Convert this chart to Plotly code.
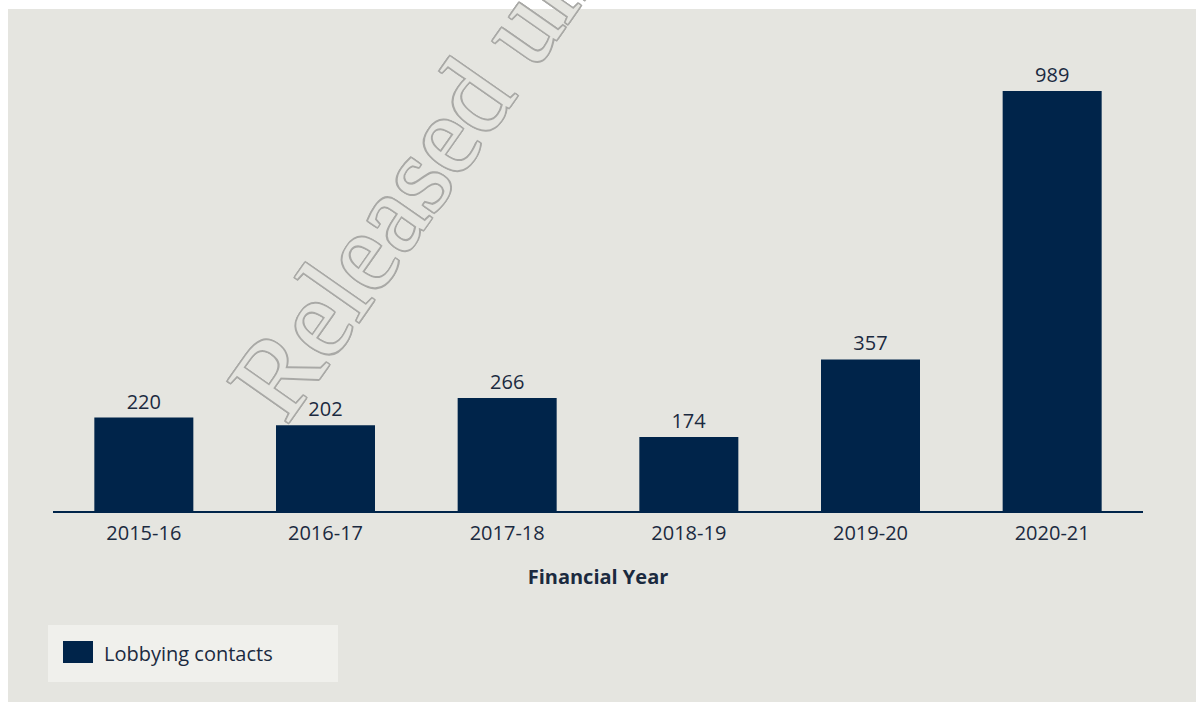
import plotly.graph_objects as go

# Lobbying contacts recorded per financial year
years = ["2015-16", "2016-17", "2017-18", "2018-19", "2019-20", "2020-21"]
contacts = [220, 202, 266, 174, 357, 989]
series_name = "Lobbying contacts"
axis_title = "Financial Year"
watermark = "Released under FOI"

W, H = 1196, 702
ML, MR, MT, MB = 53, 53, 40, 191
PW, PH = W - ML - MR, H - MT - MB

NAVY = "#00244a"
TEXT = "#1b2a3f"
PANEL = "#e5e5e0"
FONT = "Open Sans, Noto Sans, sans-serif"


def px_x(px):
    return (px - ML) / PW


def px_y(py):
    return (H - MB - py) / PH


fig = go.Figure()
fig.add_trace(go.Bar(
    x=years,
    y=contacts,
    name=series_name,
    marker=dict(color=NAVY, line=dict(width=0)),
    text=[str(v) for v in contacts],
    textposition="outside",
    textfont=dict(family=FONT, size=20, color=TEXT),
    cliponaxis=False,
    showlegend=False,
))

shapes = [
    # grey card behind the chart
    dict(type="rect", xref="paper", yref="paper", layer="below",
         x0=px_x(8), x1=px_x(W + 2), y0=px_y(9), y1=px_y(H + 2),
         fillcolor=PANEL, line=dict(width=0)),
    # legend box
    dict(type="rect", xref="paper", yref="paper",
         x0=px_x(48), x1=px_x(338), y0=px_y(625), y1=px_y(682),
         fillcolor="#f0f0ec", line=dict(width=0)),
    # legend swatch
    dict(type="rect", xref="paper", yref="paper",
         x0=px_x(63), x1=px_x(93), y0=px_y(641), y1=px_y(663),
         fillcolor=NAVY, line=dict(width=0)),
]

# outlined stamp text: fill in the card colour, edge drawn by a ring of shadows
outline = "#a9a9a6"
o = 1.5
shadow = ", ".join(
    f"{dx}px {dy}px 0 {outline}"
    for dx, dy in [(-o, -o), (o, -o), (-o, o), (o, o), (0, o), (0, -o), (o, 0), (-o, 0)]
)

annotations = [
    dict(text=series_name, xref="paper", yref="paper",
         x=px_x(102), y=px_y(653), xanchor="left", yanchor="middle",
         showarrow=False, font=dict(family=FONT, size=20, color=TEXT)),
    dict(text=watermark, xref="paper", yref="paper",
         x=px_x(512), y=px_y(37), xanchor="center", yanchor="middle",
         textangle=-55, showarrow=False,
         font=dict(family="Liberation Serif, Times New Roman, serif",
                   size=112, color=PANEL, shadow=shadow)),
]

fig.update_layout(
    width=W, height=H,
    margin=dict(l=ML, r=MR, t=MT, b=MB, pad=0),
    paper_bgcolor="white",
    plot_bgcolor="rgba(0,0,0,0)",
    bargap=0.455,
    shapes=shapes,
    annotations=annotations,
    font=dict(family=FONT, color=TEXT),
    xaxis=dict(
        range=[-0.5, 5.5],
        showline=True, linecolor=NAVY, linewidth=2,
        showgrid=False, zeroline=False, ticks="",
        tickfont=dict(family=FONT, size=20, color=TEXT),
        ticklabelstandoff=3,
        title=dict(text=f"<b>{axis_title}</b>", standoff=25,
                   font=dict(family=FONT, size=20, color=TEXT)),
    ),
    yaxis=dict(
        range=[0, PH / 0.4247],
        visible=False, showgrid=False, zeroline=False,
    ),
)

fig.write_html("out.html")
